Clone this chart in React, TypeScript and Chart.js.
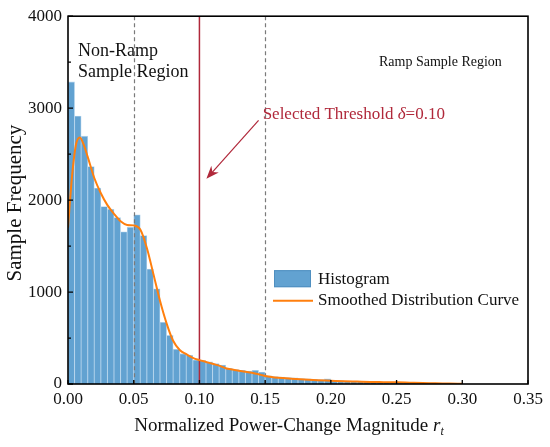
import { useEffect, useRef } from "react";
import { Chart, registerables } from "chart.js";

Chart.register(...registerables);

// Histogram: bin width 0.005, from 0.00 to 0.30
const BIN_WIDTH = 0.005;
const histCounts = [
  3285, 2915, 2695, 2365, 2130, 1930, 1900, 1810, 1655, 1705,
  1840, 1615, 1250, 1035, 672, 528, 377, 330, 313, 260,
  255, 240, 222, 205, 170, 158, 150, 140, 148, 130,
  90, 82, 75, 70, 66, 60, 56, 52, 48, 55,
  40, 36, 33, 30, 28, 26, 24, 22, 22, 20,
  18, 16, 15, 13, 11, 14, 8, 6, 5, 3,
];

// Smoothed distribution curve
const curveX = [
  0.0, 0.003, 0.006, 0.009, 0.012, 0.015, 0.02, 0.025, 0.03, 0.035,
  0.04, 0.045, 0.05, 0.055, 0.06, 0.065, 0.07, 0.075, 0.08, 0.085,
  0.09, 0.095, 0.1, 0.105, 0.11, 0.115, 0.12, 0.125, 0.13, 0.135,
  0.14, 0.145, 0.15, 0.155, 0.16, 0.17, 0.18, 0.19, 0.2, 0.21,
  0.22, 0.23, 0.24, 0.25, 0.26, 0.27, 0.28, 0.29, 0.3,
];
const curveY = [
  1700, 2250, 2600, 2680, 2600, 2470, 2240, 2075, 1945, 1850,
  1770, 1730, 1725, 1680, 1480, 1195, 905, 660, 470, 370,
  325, 285, 260, 240, 220, 200, 172, 157, 145, 134,
  122, 105, 88, 76, 68, 58, 50, 42, 36, 30,
  26, 22, 20, 18, 14, 10, 8, 5, 3,
];

const xTicks = [0, 0.05, 0.1, 0.15, 0.2, 0.25, 0.3, 0.35];
const yTicks = [0, 1000, 2000, 3000, 4000];
const yMinorTicks = [500, 1500, 2500, 3500];
const dashedLinesX = [0.05, 0.15];
const thresholdX = 0.1;

const labels = {
  nonRamp1: "Non-Ramp",
  nonRamp2: "Sample Region",
  ramp: "Ramp Sample Region",
  threshold: "Selected Threshold ",
  delta: "δ",
  thresholdVal: "=0.10",
  xTitle: "Normalized Power-Change Magnitude ",
  yTitle: "Sample Frequency",
  legendHist: "Histogram",
  legendCurve: "Smoothed Distribution Curve",
};

const SERIF = '"Liberation Serif", "Times New Roman", serif';
const BAR_COLOR = "#62a2d1";
const CURVE_COLOR = "#ff7f0e";
const RED = "#b0283a";

export default function App() {
  const ref = useRef<HTMLCanvasElement | null>(null);

  useEffect(() => {
    if (!ref.current) return;

    const overlay = {
      id: "overlay",
      afterDatasetDraw(chart: any, args: any) {
        if (args.index !== 0) return;
        const { ctx, chartArea: ca, scales } = chart;
        const xs = scales.x;
        ctx.save();
        ctx.strokeStyle = "#7a7a7a";
        ctx.lineWidth = 1.2;
        ctx.setLineDash([4, 3]);
        dashedLinesX.forEach((v) => {
          const px = Math.round(xs.getPixelForValue(v)) + 0.5;
          ctx.beginPath();
          ctx.moveTo(px, ca.top);
          ctx.lineTo(px, ca.bottom);
          ctx.stroke();
        });
        ctx.setLineDash([]);
        ctx.strokeStyle = RED;
        ctx.lineWidth = 1.5;
        const rx = xs.getPixelForValue(thresholdX);
        ctx.beginPath();
        ctx.moveTo(rx, ca.top);
        ctx.lineTo(rx, ca.bottom);
        ctx.stroke();
        ctx.restore();
      },
      afterDraw(chart: any) {
        const { ctx, chartArea: ca, scales } = chart;
        const xs = scales.x;
        const ys = scales.y;
        ctx.save();
        // frame
        ctx.strokeStyle = "#000";
        ctx.lineWidth = 1.6;
        ctx.strokeRect(ca.left, ca.top, ca.right - ca.left, ca.bottom - ca.top);
        // inward ticks
        ctx.lineWidth = 1.3;
        ctx.beginPath();
        xTicks.forEach((v) => {
          const px = xs.getPixelForValue(v);
          ctx.moveTo(px, ca.bottom);
          ctx.lineTo(px, ca.bottom - 4);
        });
        yTicks.forEach((v) => {
          const py = ys.getPixelForValue(v);
          ctx.moveTo(ca.left, py);
          ctx.lineTo(ca.left + 5, py);
        });
        yMinorTicks.forEach((v) => {
          const py = ys.getPixelForValue(v);
          ctx.moveTo(ca.left, py);
          ctx.lineTo(ca.left + 3, py);
        });
        ctx.stroke();

        // annotations
        ctx.fillStyle = "#111";
        ctx.textBaseline = "middle";
        ctx.textAlign = "left";
        ctx.font = `18px ${SERIF}`;
        ctx.fillText(labels.nonRamp1, xs.getPixelForValue(0.0076), ys.getPixelForValue(3623));
        ctx.fillText(labels.nonRamp2, xs.getPixelForValue(0.0076), ys.getPixelForValue(3385));
        ctx.font = `14px ${SERIF}`;
        ctx.fillText(labels.ramp, xs.getPixelForValue(0.2366), ys.getPixelForValue(3493));

        // threshold label
        ctx.fillStyle = RED;
        let tx = xs.getPixelForValue(0.1481);
        const ty = ys.getPixelForValue(2933);
        ctx.font = `17px ${SERIF}`;
        ctx.fillText(labels.threshold, tx, ty);
        tx += ctx.measureText(labels.threshold).width;
        ctx.font = `italic 17px ${SERIF}`;
        ctx.fillText(labels.delta, tx, ty);
        tx += ctx.measureText(labels.delta).width;
        ctx.font = `17px ${SERIF}`;
        ctx.fillText(labels.thresholdVal, tx, ty);

        // arrow
        const ax0 = xs.getPixelForValue(0.145);
        const ay0 = ys.getPixelForValue(2868);
        const ax1 = xs.getPixelForValue(0.1053);
        const ay1 = ys.getPixelForValue(2232);
        const ang = Math.atan2(ay1 - ay0, ax1 - ax0);
        ctx.strokeStyle = RED;
        ctx.lineWidth = 1.2;
        ctx.beginPath();
        ctx.moveTo(ax0, ay0);
        ctx.lineTo(ax1 - 6 * Math.cos(ang), ay1 - 6 * Math.sin(ang));
        ctx.stroke();
        const hl = 13;
        const hw = 5;
        const bx = ax1 - hl * Math.cos(ang);
        const by = ay1 - hl * Math.sin(ang);
        const nx = -Math.sin(ang);
        const ny = Math.cos(ang);
        const notchX = ax1 - 9 * Math.cos(ang);
        const notchY = ay1 - 9 * Math.sin(ang);
        ctx.fillStyle = RED;
        ctx.beginPath();
        ctx.moveTo(ax1, ay1);
        ctx.lineTo(bx + nx * hw, by + ny * hw);
        ctx.lineTo(notchX, notchY);
        ctx.lineTo(bx - nx * hw, by - ny * hw);
        ctx.closePath();
        ctx.fill();

        // legend
        const lx = ca.left + 206;
        const ly = ca.top + 254;
        ctx.fillStyle = BAR_COLOR;
        ctx.fillRect(lx, ly, 37, 17);
        ctx.strokeStyle = "#4f8fc0";
        ctx.lineWidth = 1;
        ctx.strokeRect(lx + 0.5, ly + 0.5, 36, 16);
        ctx.strokeStyle = CURVE_COLOR;
        ctx.lineWidth = 2;
        ctx.beginPath();
        ctx.moveTo(lx - 1, ly + 30.5);
        ctx.lineTo(lx + 39, ly + 30.5);
        ctx.stroke();
        ctx.fillStyle = "#111";
        ctx.font = `17px ${SERIF}`;
        ctx.fillText(labels.legendHist, lx + 44, ly + 9);
        ctx.fillText(labels.legendCurve, lx + 44, ly + 30.5);

        // x title
        ctx.font = `19px ${SERIF}`;
        const w1 = ctx.measureText(labels.xTitle).width;
        ctx.font = `italic 19px ${SERIF}`;
        const w2 = ctx.measureText("r").width;
        ctx.font = `italic 12px ${SERIF}`;
        const w3 = ctx.measureText("t").width;
        const total = w1 + w2 + w3;
        let x0 = (ca.left + ca.right) / 2 - 9 - total / 2;
        const baseY = 431;
        ctx.textBaseline = "alphabetic";
        ctx.font = `19px ${SERIF}`;
        ctx.fillText(labels.xTitle, x0, baseY);
        x0 += w1;
        ctx.font = `italic 19px ${SERIF}`;
        ctx.fillText("r", x0, baseY);
        x0 += w2;
        ctx.font = `italic 12px ${SERIF}`;
        ctx.fillText("t", x0, baseY + 4);

        // y title
        ctx.save();
        ctx.translate(15, (ca.top + ca.bottom) / 2 + 3);
        ctx.rotate(-Math.PI / 2);
        ctx.textAlign = "center";
        ctx.textBaseline = "middle";
        ctx.font = `21px ${SERIF}`;
        ctx.fillText(labels.yTitle, 0, 0);
        ctx.restore();

        ctx.restore();
      },
    };

    const chart = new Chart(ref.current, {
      type: "bar",
      data: {
        datasets: [
          {
            type: "bar",
            label: labels.legendHist,
            data: histCounts.map((c, i) => ({ x: (i + 0.5) * BIN_WIDTH, y: c })),
            backgroundColor: BAR_COLOR,
            borderColor: "#b3d3ec",
            borderWidth: 0.8,
            barPercentage: 1,
            categoryPercentage: 1,
            order: 2,
          } as any,
          {
            type: "line",
            label: labels.legendCurve,
            data: curveX.map((x, i) => ({ x, y: curveY[i] })),
            borderColor: CURVE_COLOR,
            borderWidth: 2,
            pointRadius: 0,
            cubicInterpolationMode: "monotone",
            fill: false,
            order: 1,
          } as any,
        ],
      },
      options: {
        animation: false,
        responsive: true,
        maintainAspectRatio: false,
        layout: { padding: { top: 13, right: 22, left: 0, bottom: 0 } },
        plugins: {
          legend: { display: false },
          tooltip: { enabled: false },
        },
        scales: {
          x: {
            type: "linear",
            min: 0,
            max: 0.35,
            offset: false,
            grid: { display: false, drawTicks: false, offset: false },
            border: { display: false },
            ticks: {
              stepSize: 0.05,
              padding: 5,
              color: "#111",
              font: { family: SERIF, size: 17 },
              callback: (v: any) => Number(v).toFixed(2),
              maxRotation: 0,
              autoSkip: false,
            },
            afterFit: (s: any) => {
              s.height = 63;
            },
          },
          y: {
            type: "linear",
            min: 0,
            max: 4000,
            grid: { display: false, drawTicks: false },
            border: { display: false },
            ticks: {
              stepSize: 1000,
              padding: 6,
              color: "#111",
              font: { family: SERIF, size: 17 },
              callback: (v: any) => String(Math.round(Number(v))),
            },
            afterFit: (s: any) => {
              s.width = 68;
            },
          },
        },
      },
      plugins: [overlay],
    } as any);

    return () => chart.destroy();
  }, []);

  return (
    <div style={{ position: "fixed", left: 0, top: 0, width: 550, height: 447, background: "#fff" }}>
      <canvas ref={ref} />
    </div>
  );
}
